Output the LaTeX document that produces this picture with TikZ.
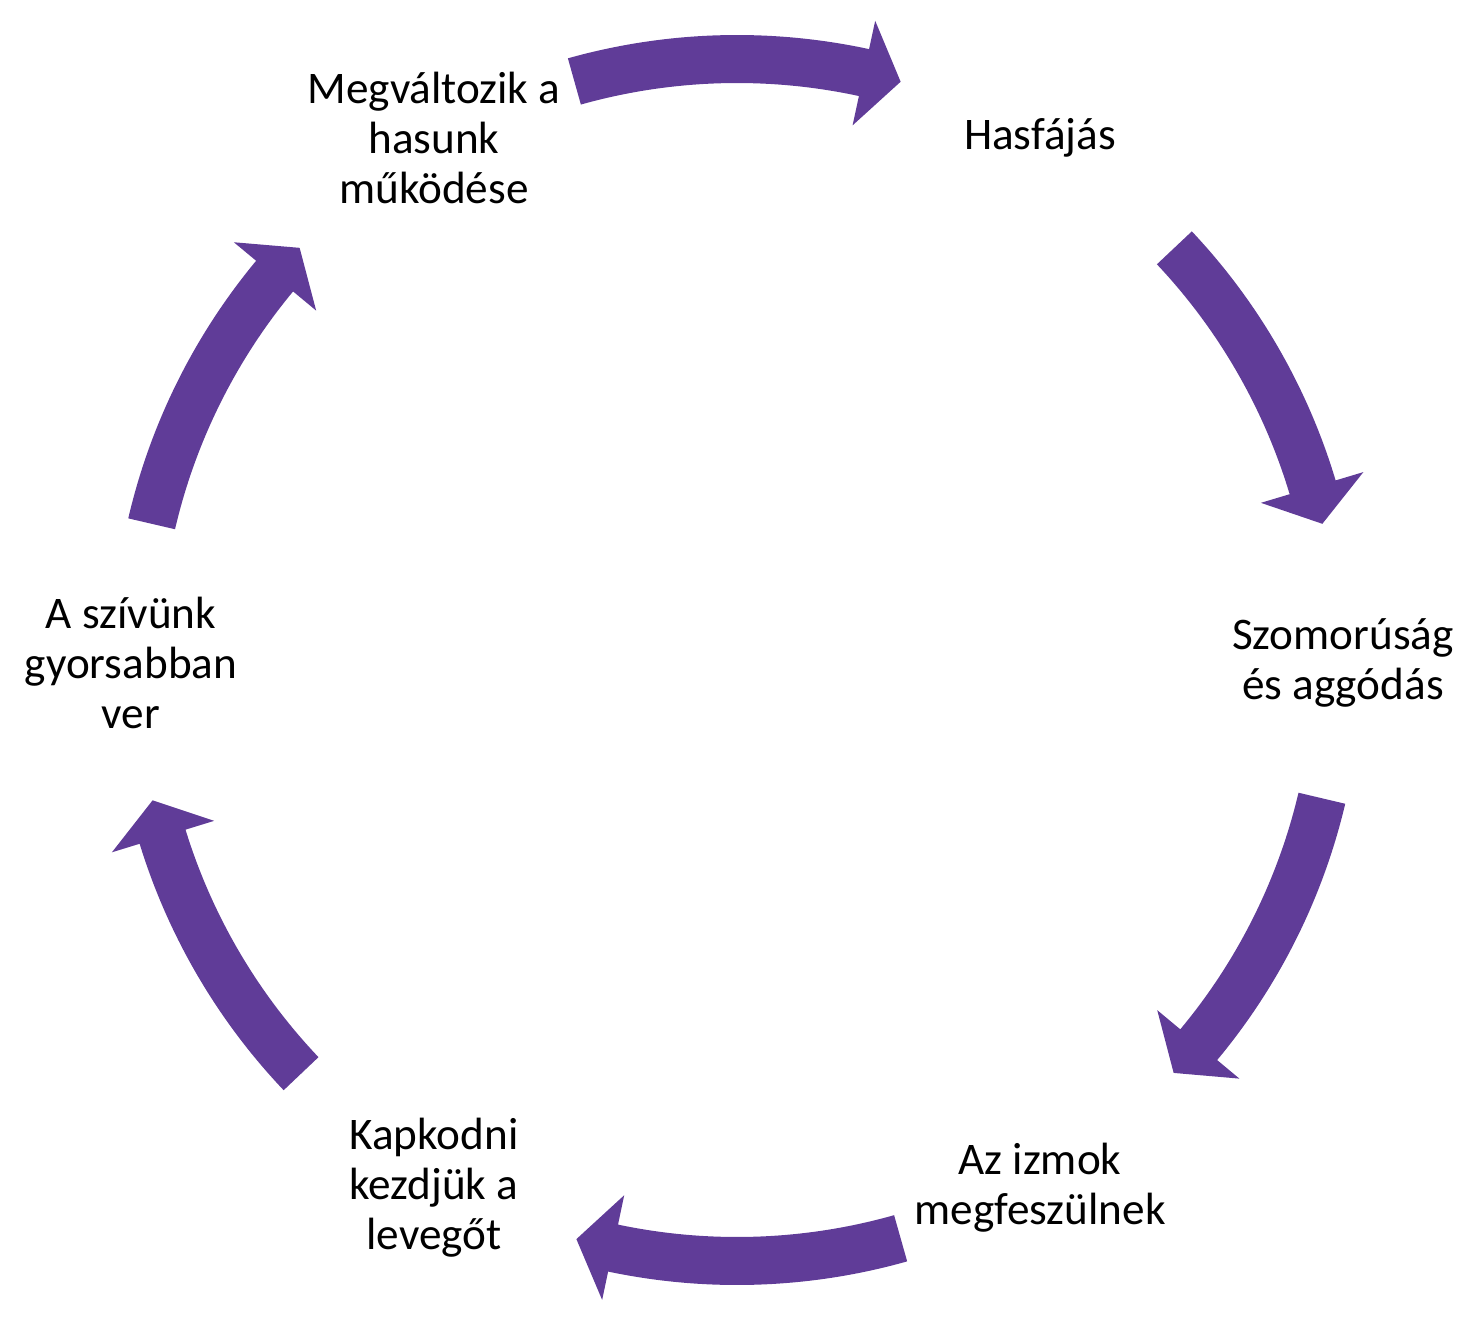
\documentclass[tikz,border=0pt]{standalone}
\usepackage{fontspec}
\setmainfont{Carlito}
\definecolor{arrowpurple}{RGB}{96,60,152}
\newcommand{\cycarrow}[2]{%
  \pgfmathsetmacro{\cb}{#2+3.6}%
  \fill[arrowshape] (#1:312.5pt) arc[start angle=#1, end angle=\cb, radius=312.5pt]
    -- (\cb:327pt) -- (#2:300.5pt) -- (\cb:273.5pt) -- (\cb:288.5pt)
    arc[start angle=\cb, end angle=#1, radius=288.5pt] -- cycle;}
\begin{document}
\begin{tikzpicture}[
  lbl/.style={align=center, inner sep=0pt, yshift=-1.5pt, font=\fontsize{22.6pt}{25pt}\selectfont},
  arrowshape/.style={fill=arrowpurple}]
\useasboundingbox (-368.5pt,-336.5pt) rectangle (369.5pt,330pt);
\node[lbl] (n1) at (60:303pt) {Hasfájás};
\node[lbl] (n2) at (0:303pt) {Szomorúság\\és aggódás};
\node[lbl] (n3) at (-60:303pt) {Az izmok\\megfeszülnek};
\node[lbl] (n4) at (-120:303pt) {Kapkodni\\kezdjük a\\levegőt};
\node[lbl] (n5) at (180:303pt) {A szívünk\\gyorsabban\\ver};
\node[lbl] (n6) at (120:303pt) {Megváltozik a\\hasunk\\működése};
\cycarrow{105.7}{74.2}
\cycarrow{43.3}{13.1}
\cycarrow{-13.3}{-43.4}
\cycarrow{-74.2}{-105.5}
\cycarrow{-136.5}{-166.5}
\cycarrow{166.9}{136.7}
\end{tikzpicture}
\end{document}
